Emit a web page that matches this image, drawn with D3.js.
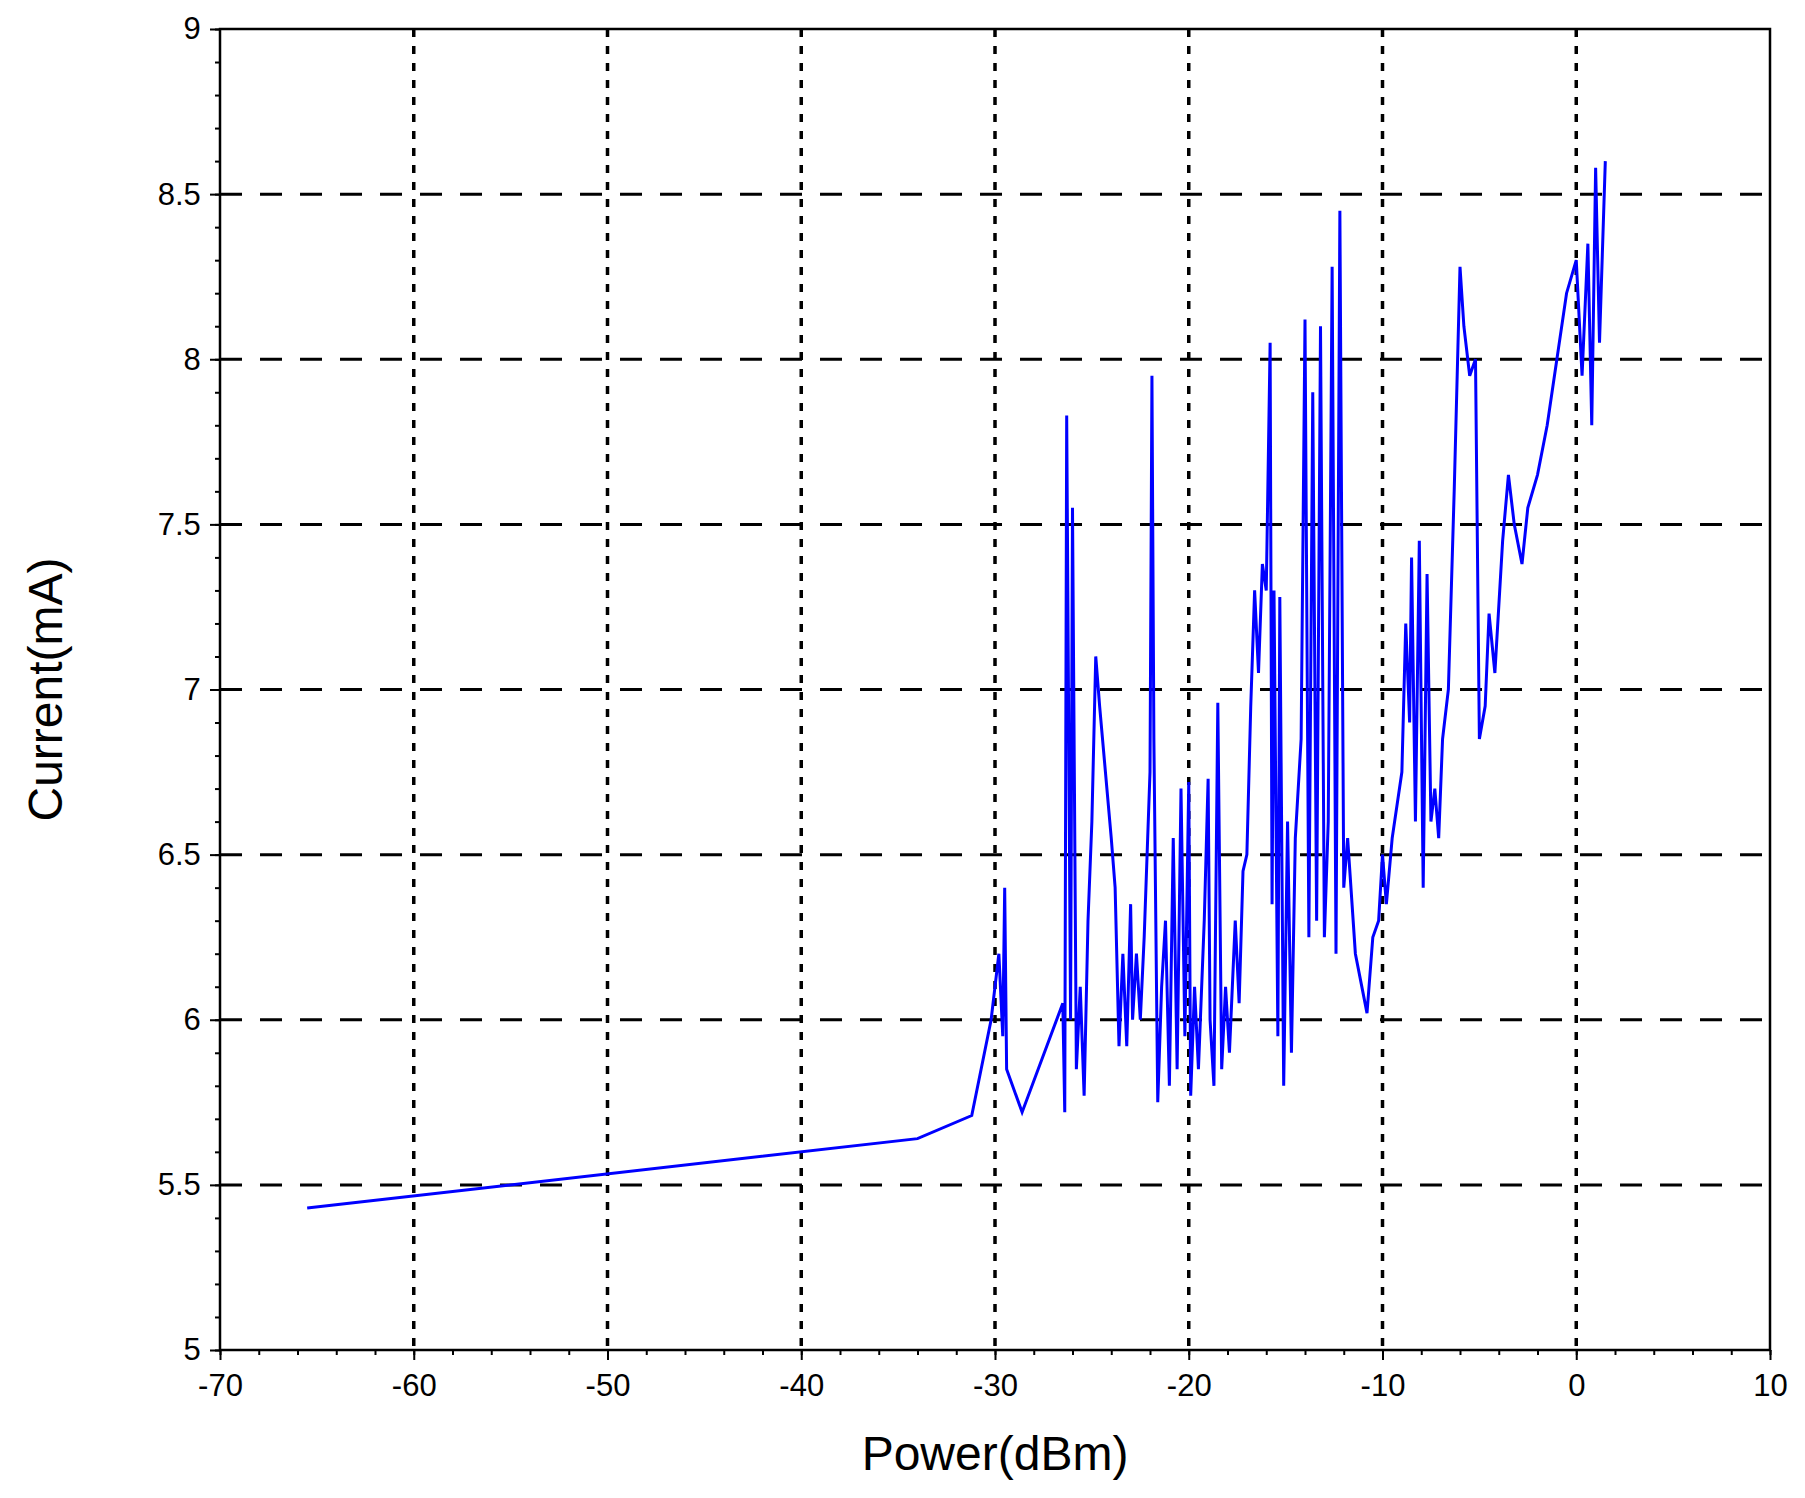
<!DOCTYPE html><html><head><meta charset="utf-8"><script src="https://cdn.jsdelivr.net/npm/d3@7"></script>
<style>body{margin:0;background:#fff}text{font-family:"Liberation Sans",Arial,sans-serif}</style></head><body><svg id="c" width="1805" height="1498"></svg>
<script>
const xTicks=[-70,-60,-50,-40,-30,-20,-10,0,10];
const yTicks=[5,5.5,6,6.5,7,7.5,8,8.5,9];
const powerX=[-65.5,-34,-31.2,-30.2,-29.8,-29.6,-29.5,-29.4,-28.6,-26.5,-26.4,-26.3,-26.1,-26.0,-25.8,-25.6,-25.4,-25.2,-25.0,-24.8,-24.6,-24.3,-24.0,-23.8,-23.6,-23.4,-23.2,-23.0,-22.9,-22.7,-22.5,-22.3,-22.0,-21.9,-21.8,-21.6,-21.4,-21.2,-21.0,-20.8,-20.6,-20.4,-20.2,-20.0,-19.9,-19.7,-19.5,-19.2,-19.0,-18.9,-18.7,-18.5,-18.3,-18.1,-17.9,-17.6,-17.4,-17.2,-17.0,-16.8,-16.6,-16.4,-16.2,-16.0,-15.8,-15.7,-15.6,-15.4,-15.3,-15.1,-14.9,-14.7,-14.5,-14.2,-14.0,-13.8,-13.6,-13.4,-13.2,-13.0,-12.8,-12.6,-12.4,-12.2,-12.0,-11.8,-11.4,-10.8,-10.5,-10.2,-10.0,-9.8,-9.5,-9.0,-8.8,-8.6,-8.5,-8.3,-8.1,-7.9,-7.7,-7.5,-7.3,-7.1,-6.9,-6.6,-6.3,-6.0,-5.8,-5.5,-5.2,-5.0,-4.7,-4.5,-4.2,-3.8,-3.5,-3.2,-2.8,-2.5,-2.0,-1.5,-1.0,-0.5,0,0.3,0.6,0.8,1.0,1.2,1.5];
const currentY=[5.43,5.64,5.71,6.0,6.2,5.95,6.4,5.85,5.72,6.05,5.72,7.83,6.0,7.55,5.85,6.1,5.77,6.3,6.6,7.1,6.95,6.75,6.55,6.4,5.92,6.2,5.92,6.35,6.0,6.2,6.0,6.25,6.75,7.95,6.85,5.75,6.1,6.3,5.8,6.55,5.85,6.7,5.95,6.72,5.77,6.1,5.85,6.3,6.73,6.0,5.8,6.96,5.85,6.1,5.9,6.3,6.05,6.45,6.5,6.95,7.3,7.05,7.38,7.3,8.05,6.35,7.3,5.95,7.28,5.8,6.6,5.9,6.55,6.85,8.12,6.25,7.9,6.3,8.1,6.25,6.6,8.28,6.2,8.45,6.4,6.55,6.2,6.02,6.25,6.3,6.5,6.35,6.55,6.75,7.2,6.9,7.4,6.6,7.45,6.4,7.35,6.6,6.7,6.55,6.85,7.0,7.6,8.28,8.1,7.95,8.0,6.85,6.95,7.23,7.05,7.45,7.65,7.5,7.38,7.55,7.65,7.8,8.0,8.2,8.3,7.95,8.35,7.8,8.58,8.05,8.6];
const svg=d3.select("#c");
const L=220,R=1770,T=29,B=1350;
const x=d3.scaleLinear().domain([-70,10]).range([L,R]);
const y=d3.scaleLinear().domain([5,9]).range([B,T]);
const g=svg.append("g");
g.selectAll(".vg").data(xTicks.slice(1,-1)).join("line").attr("x1",d=>x(d)).attr("x2",d=>x(d)).attr("y1",T).attr("y2",B).attr("stroke","#000").attr("stroke-width",3.5).attr("stroke-dasharray","8,9");
g.selectAll(".hg").data(yTicks.slice(1,-1)).join("line").attr("x1",L).attr("x2",R).attr("y1",d=>y(d)).attr("y2",d=>y(d)).attr("stroke","#000").attr("stroke-width",3).attr("stroke-dasharray","22,18");
const data=powerX.map((p,i)=>[p,currentY[i]]);
svg.append("path").datum(data).attr("d",d3.line().x(d=>x(d[0])).y(d=>y(d[1]))).attr("fill","none").attr("stroke","#0000ff").attr("stroke-width",3);
svg.append("rect").attr("x",L).attr("y",T).attr("width",R-L).attr("height",B-T).attr("fill","none").attr("stroke","#000").attr("stroke-width",2.5);
const xa=svg.append("g").attr("transform",`translate(0,${B})`).call(d3.axisBottom(x).tickValues(xTicks).tickSize(10).tickFormat(d=>String(d)));
const ya=svg.append("g").attr("transform",`translate(${L},0)`).call(d3.axisLeft(y).tickValues(yTicks).tickSize(10).tickFormat(d=>d));
svg.append("g").attr("transform",`translate(0,${B})`).call(d3.axisBottom(x).tickValues(d3.range(-70,10.1,2)).tickSize(5).tickFormat(""));
svg.append("g").attr("transform",`translate(${L},0)`).call(d3.axisLeft(y).tickValues(d3.range(5,9.01,0.1)).tickSize(5).tickFormat(""));
svg.selectAll(".domain").remove();
svg.selectAll(".tick line").attr("stroke-width",2);
xa.selectAll("text").attr("font-size",31).attr("dy","1.05em");
ya.selectAll("text").attr("font-size",31).attr("dx","-0.2em");
svg.append("text").attr("x",(L+R)/2).attr("y",1470).attr("text-anchor","middle").attr("font-size",48).text("Power(dBm)");
svg.append("text").attr("transform",`translate(62,${(T+B)/2}) rotate(-90)`).attr("text-anchor","middle").attr("font-size",48).text("Current(mA)");
</script></body></html>
